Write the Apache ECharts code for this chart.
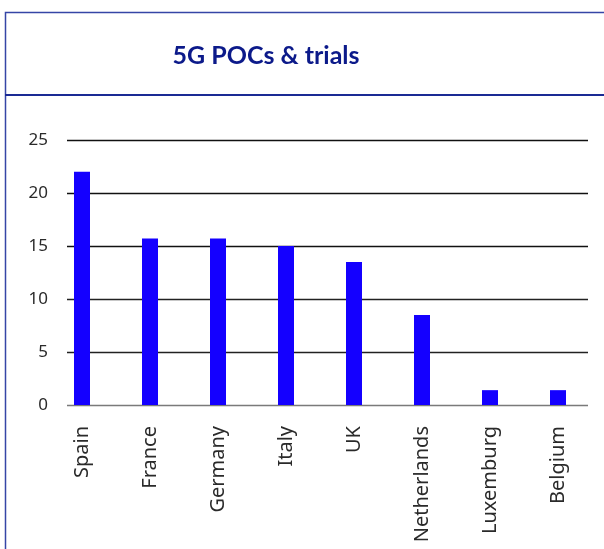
<!DOCTYPE html>
<html>
<head>
<meta charset="utf-8">
<script src="https://cdn.jsdelivr.net/npm/echarts@6/dist/echarts.min.js"></script>
<style>
  html, body { margin: 0; padding: 0; background: #ffffff; }
  #chart { width: 604px; height: 549px; }
</style>
</head>
<body>
<div id="chart"></div>
<script>
// Number of 5G proofs of concept and trials per country
const countries = ['Spain', 'France', 'Germany', 'Italy', 'UK', 'Netherlands', 'Luxemburg', 'Belgium'];
const trials = [22, 15.7, 15.7, 15, 13.5, 8.5, 1.4, 1.4];
const yTicks = [0, 5, 10, 15, 20, 25];

const chart = echarts.init(document.getElementById('chart'));

const yMin = yTicks[0];
const yMax = yTicks[yTicks.length - 1];
const yStep = yTicks[1] - yTicks[0];
const labelFont = 'Noto Sans';

chart.setOption({
  animation: false,
  backgroundColor: '#ffffff',
  textStyle: { fontFamily: labelFont },
  graphic: [
    // outer frame
    {
      type: 'rect',
      shape: { x: 5.5, y: 12.5, width: 900, height: 900 },
      style: { fill: 'none', stroke: '#3545a6', lineWidth: 1.5 },
      silent: true
    },
    // header separator
    {
      type: 'line',
      shape: { x1: 5, y1: 95, x2: 604, y2: 95 },
      style: { stroke: '#1a2a94', lineWidth: 2 },
      silent: true
    },
    {
      type: 'text',
      x: 266,
      y: 56,
      style: {
        text: '5G POCs & trials',
        font: 'bold 25px Lato',
        fill: '#0c1a8a',
        textAlign: 'center',
        textVerticalAlign: 'middle'
      },
      silent: true
    }
  ],
  grid: [
    { left: 67, right: 16, top: 140, bottom: 144 },
    { left: 48, right: 12, top: 140, bottom: 144 }
  ],
  xAxis: [
    {
      gridIndex: 0,
      type: 'category',
      data: countries,
      show: false
    },
    {
      gridIndex: 1,
      type: 'category',
      data: countries,
      axisLine: { show: false },
      axisTick: { show: false },
      axisLabel: {
        rotate: 90,
        margin: 21,
        fontFamily: labelFont,
        fontSize: 20,
        color: '#2a2a2a',
        interval: 0
      }
    }
  ],
  yAxis: [
    {
      gridIndex: 0,
      type: 'value',
      min: yMin,
      max: yMax,
      interval: yStep,
      axisLine: { show: false },
      axisTick: { show: false },
      axisLabel: {
        margin: 19,
        fontFamily: labelFont,
        fontSize: 17,
        color: '#2a2a2a'
      },
      splitLine: {
        lineStyle: {
          color: ['#7a7a7a', '#222222', '#222222', '#111111', '#111111', '#111111'],
          width: 1.3
        }
      }
    },
    {
      gridIndex: 1,
      type: 'value',
      min: yMin,
      max: yMax,
      interval: yStep,
      show: false,
      splitLine: { show: false }
    }
  ],
  series: [
    {
      type: 'bar',
      xAxisIndex: 1,
      yAxisIndex: 1,
      data: trials,
      barWidth: 16,
      itemStyle: { color: '#1400ff' },
      z: 5
    }
  ]
});
</script>
</body>
</html>
